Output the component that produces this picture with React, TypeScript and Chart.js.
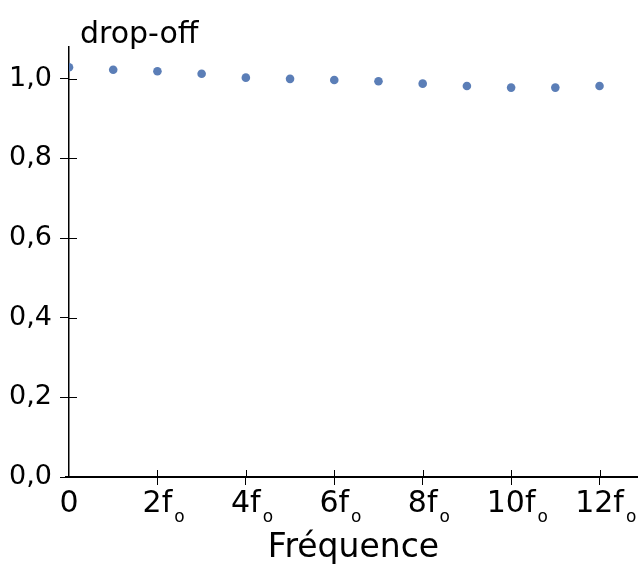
import React, { useEffect, useRef } from "react";
import { Chart, registerables } from "chart.js";

Chart.register(...registerables);

const harmonics = [0, 1, 2, 3, 4, 5, 6, 7, 8, 9, 10, 11, 12];
const dropOff = [1.029, 1.023, 1.019, 1.013, 1.003, 1.0, 0.997, 0.994, 0.988, 0.982, 0.978, 0.978, 0.982];
const yTickValues = [0, 0.2, 0.4, 0.6, 0.8, 1.0];
const xTickLabel = (v: number) => (v === 0 ? "0" : `${v}f`);
const yTickLabel = (v: number) => v.toFixed(1).replace(".", ",");
const subscript = "o";
const yTitle = "drop-off";
const xTitle = "Fréquence";

const FONT = '"DejaVu Sans", "Liberation Sans", Arial, sans-serif';

const innerTicks = {
  id: "innerTicks",
  afterDraw(chart: any) {
    const { ctx, chartArea, scales } = chart;
    ctx.save();
    ctx.strokeStyle = "#000";
    ctx.lineWidth = 1;
    const xs = scales.x;
    xs.ticks.forEach((t: any) => {
      if (t.value === 0) return;
      const px = Math.round(xs.getPixelForValue(t.value)) + 0.5;
      ctx.beginPath();
      ctx.moveTo(px, chartArea.bottom);
      ctx.lineTo(px, chartArea.bottom - 7);
      ctx.stroke();
    });
    const ys = scales.y;
    ys.ticks.forEach((t: any) => {
      if (t.value === 0) return;
      const py = Math.round(ys.getPixelForValue(t.value)) + 0.5;
      ctx.beginPath();
      ctx.moveTo(chartArea.left, py);
      ctx.lineTo(chartArea.left + 8, py);
      ctx.stroke();
    });
    // x axis line slightly extended to the left of the y axis
    ctx.lineWidth = 2;
    ctx.beginPath();
    ctx.moveTo(chartArea.left - 4, chartArea.bottom);
    ctx.lineTo(chartArea.left, chartArea.bottom);
    ctx.stroke();
    // subscripts on x tick labels
    ctx.fillStyle = "#000";
    ctx.textBaseline = "alphabetic";
    ctx.textAlign = "left";
    xs.ticks.forEach((t: any) => {
      if (t.value === 0) return;
      ctx.font = `30px ${FONT}`;
      const w = ctx.measureText(xTickLabel(t.value)).width;
      const px = xs.getPixelForValue(t.value);
      ctx.font = `17px ${FONT}`;
      ctx.fillText(subscript, px + w / 2 + 2, chartArea.bottom + 45);
    });
    // y title
    ctx.font = `30px ${FONT}`;
    ctx.fillText(yTitle, chartArea.left + 11, 43);
    ctx.restore();
  },
};

export default function App() {
  const ref = useRef<HTMLCanvasElement>(null);
  useEffect(() => {
    document.body.style.margin = "0";
    const canvas = ref.current!;
    const chart = new Chart(canvas, {
      type: "scatter",
      data: {
        datasets: [
          {
            data: harmonics.map((h, i) => ({ x: h, y: dropOff[i] })),
            backgroundColor: "#5b7eb7",
            borderColor: "#5b7eb7",
            borderWidth: 0,
            pointRadius: 4.3,
            pointHoverRadius: 4.3,
          },
        ],
      },
      options: {
        responsive: false,
        animation: false,
        layout: { autoPadding: false, padding: { top: 47, left: 0, right: 0, bottom: 0 } },
        plugins: {
          legend: { display: false },
          tooltip: { enabled: false },
          title: { display: false },
        },
        scales: {
          x: {
            type: "linear",
            min: 0,
            max: 12.87,
            afterFit: (s: any) => {
              s.height = 91;
            },
            ticks: {
              stepSize: 2,
              includeBounds: false,
              callback: (v: any) => xTickLabel(Number(v)),
              color: "#000",
              font: { family: FONT, size: 30 },
              padding: 1,
              maxRotation: 0,
              autoSkip: false,
            },
            grid: {
              drawOnChartArea: false,
              drawTicks: true,
              tickLength: 8,
              tickColor: (c: any) => (c.tick && c.tick.value === 0 ? "rgba(0,0,0,0)" : "#000"),
              tickWidth: 1,
            },
            border: { display: true, color: "#000", width: 2 },
            title: {
              display: true,
              text: xTitle,
              color: "#000",
              font: { family: FONT, size: 33 },
              padding: { top: 0, bottom: 0 },
            },
          },
          y: {
            type: "linear",
            min: 0,
            max: 1.08,
            afterFit: (s: any) => {
              s.width = 69;
            },
            afterBuildTicks: (s: any) => {
              s.ticks = yTickValues.map((v) => ({ value: v }));
            },
            ticks: {
              callback: (v: any) => yTickLabel(Number(v)),
              color: "#000",
              font: { family: FONT, size: 27 },
              padding: 8,
            },
            grid: {
              drawOnChartArea: false,
              drawTicks: true,
              tickLength: 9,
              tickColor: "#000",
              tickWidth: 1,
            },
            border: { display: true, color: "#000", width: 1.5 },
          },
        },
      },
      plugins: [innerTicks],
    });
    return () => chart.destroy();
  }, []);
  return <canvas ref={ref} width={638} height={568} style={{ display: "block" }} />;
}
